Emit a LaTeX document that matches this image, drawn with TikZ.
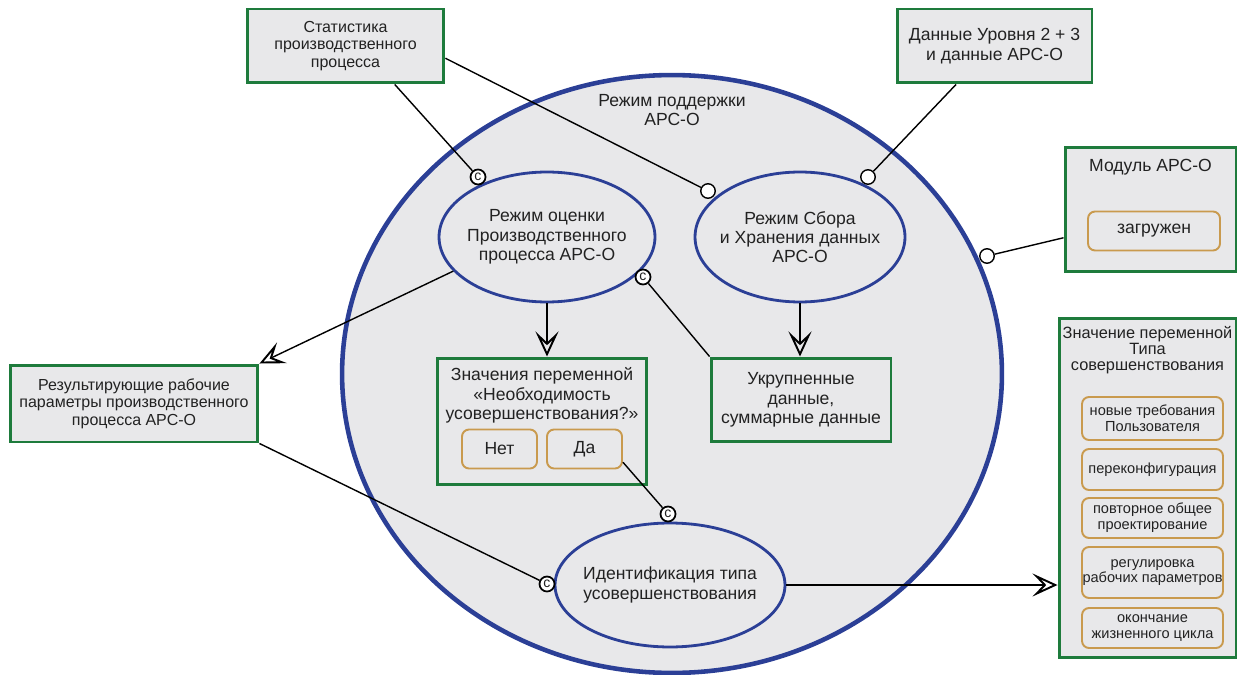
\documentclass[tikz,border=0pt]{standalone}
\usepackage{fontspec}
\setmainfont{Liberation Sans}
\usepackage{tikz}
\usetikzlibrary{ positioning, arrows.meta, shapes.geometric }
\usepackage{xcolor}
\definecolor{frame}{HTML}{1E7B3C}
\definecolor{ring}{HTML}{2B3F96}
\definecolor{panel}{HTML}{E8E8EA}
\definecolor{chip}{HTML}{C99A4E}
\definecolor{ink}{HTML}{222222}

\begin{document}
\begin{tikzpicture}[x=0.02cm, y=-0.02cm,
  every node/.style={font=\fontsize{10}{11}\selectfont, text=ink, align=center},
  smalltext/.style={font=\fontsize{9.1}{10}\selectfont},
  greenbox/.style={draw=frame, line width=1.7pt, fill=panel, inner sep=0pt},
  chipbox/.style={draw=chip, line width=1.1pt, fill=panel, rounded corners=4pt, inner sep=0pt, minimum height=0.78cm},
  typechip/.style={chipbox, minimum width=2.82cm, font=\fontsize{8.3}{9}\selectfont},
  mode/.style={ellipse, draw=ring, line width=1.6pt, fill=panel, inner xsep=-0.3cm, inner ysep=0pt},
  cmark/.style={circle, draw, line width=1pt, fill=white, inner sep=0pt, minimum size=0.3cm, font=\fontsize{8}{8}\selectfont},
  omark/.style={circle, draw, line width=0.8pt, fill=white, inner sep=0pt, minimum size=0.29cm},
  link/.style={line width=0.8pt},
  flow/.style={line width=0.8pt, -{Stealth[open, length=0.5cm, width=0.46cm, inset=0.22cm, line width=1.1pt]}}]
  \useasboundingbox (0,0) rectangle (1240,675);

  % support mode ring
  \node[mode, line width=2.6pt, minimum width=13.2cm, minimum height=11.96cm] (apco) at (672,374) {};
  \node[below=0.3cm of apco.north] (apcotitle) {Режим поддержки\\АРС-О};

  % modes inside
  \node[mode, minimum width=4.32cm, minimum height=2.6cm] (assess) at (547,237) {Режим оценки\\Производственного\\процесса АРС-О};
  \node[mode, minimum width=4.2cm, minimum height=2.6cm] (collect) at (800,237) {Режим Сбора\\и Хранения данных\\АРС-О};
  \node[mode, minimum width=4.6cm, minimum height=2.48cm] (ident) at (670,585) {Идентификация типа\\усовершенствования};

  % data boxes
  \node[greenbox, smalltext, minimum width=3.94cm, minimum height=1.48cm] (stats) at (345.5,46) {Статистика\\производственного\\процесса};
  \node[greenbox, minimum width=3.9cm, minimum height=1.48cm] (levels) at (994.5,46) {Данные Уровня 2 + 3\\и данные АРС-О};
  \node[greenbox, minimum width=3.42cm, minimum height=2.5cm] (module) at (1150.5,209.5) {};
  \node[below=0.16cm of module.north] (moduletitle) {Модуль АРС-О};
  \node[chipbox, minimum width=2.64cm] (loaded) at (1154,231) {загружен};
  \node[greenbox, smalltext, minimum width=4.96cm, minimum height=1.54cm] (result) at (134,403.5) {Результирующие рабочие\\параметры производственного\\процесса АРС-О};
  \node[greenbox, minimum width=3.6cm, minimum height=1.68cm] (agg) at (801,400) {Укрупненные\\данные,\\суммарные данные};

  % need for improvement
  \node[greenbox, minimum width=4.2cm, minimum height=2.54cm] (needvals) at (542,421.5) {};
  \node[below=0.1cm of needvals.north] (needtitle) {Значения переменной\\«Необходимость\\усовершенствования?»};
  \node[chipbox, minimum width=1.5cm] (no) at (499.5,449) {Нет};
  \node[chipbox, minimum width=1.5cm] (yes) at (584.5,449) {Да};

  % improvement types
  \node[greenbox, minimum width=3.54cm, minimum height=6.8cm] (types) at (1147.5,488) {};
  \node[below=0.08cm of types.north, font=\fontsize{9.3}{9}\selectfont] (typestitle) {Значение переменной\\Типа\\совершенствования};
  \node[typechip, minimum height=0.86cm] (newreq) at (1152.5,418.5) {новые требования\\Пользователя};
  \node[typechip, minimum height=0.82cm] (reconf) at (1152.5,469.5) {переконфигурация};
  \node[typechip, minimum height=0.8cm] (redesign) at (1152.5,518) {повторное общее\\проектирование};
  \node[typechip, minimum height=1.02cm] (tuning) at (1152.5,572.5) {регулировка\\рабочих параметров};
  \node[typechip, minimum height=0.8cm] (endlife) at (1152.5,628) {окончание\\жизненного цикла};

  % ports
  \node[cmark] (c1) at (478,177) {c};
  \node[cmark] (c2) at (643,277) {c};
  \node[cmark] (c3) at (668,514) {c};
  \node[cmark] (c4) at (547,584) {c};
  \node[omark] (o1) at (708,191) {};
  \node[omark] (o2) at (868,177) {};
  \node[omark] (o3) at (987,256) {};

  % connectors
  \draw[link] (stats.-38) -- (c1);
  \draw[link] (stats.-7) -- (o1);
  \draw[link] (levels.-135) -- (o2);
  \draw[link] (module.198) -- (o3);
  \draw[link] (c2) -- (agg.north west);
  \draw[link] (yes.-19) -- (c3);
  \draw[link] (result.south east) -- (c4);
  \draw[flow] (assess.200) -- (result.north east);
  \draw[flow] (assess.south) -- (assess.south |- needvals.north);
  \draw[flow] (collect.south) -- (collect.south |- agg.north);
  \draw[flow] (ident.east) -- (ident.east -| types.west);
\end{tikzpicture}
\end{document}
